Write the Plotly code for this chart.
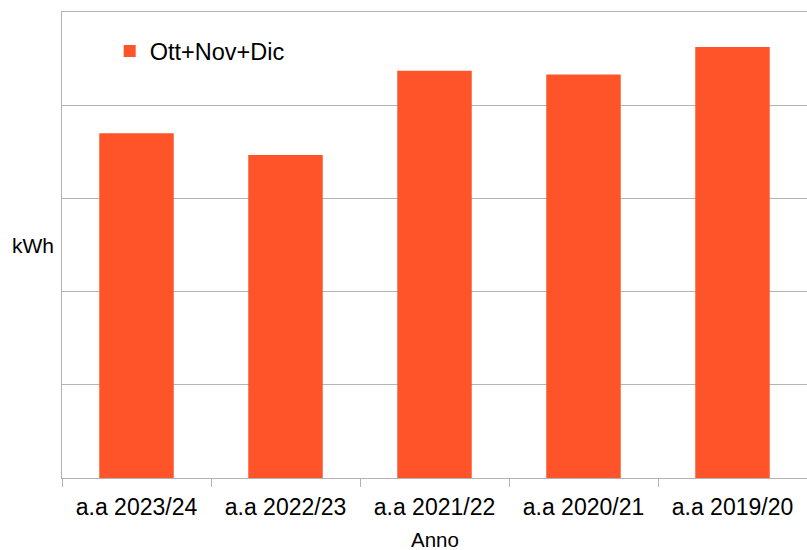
import plotly.graph_objects as go

categories = ["a.a 2023/24", "a.a 2022/23", "a.a 2021/22", "a.a 2020/21", "a.a 2019/20"]
values = [3700, 3465, 4370, 4330, 4625]
series_name = "Ott+Nov+Dic"
x_title = "Anno"
y_title = "kWh"

grid = "#b3b3b3"
font_family = "Liberation Sans, Arial, sans-serif"

fig = go.Figure()
fig.add_trace(go.Bar(
    x=categories, y=values, name=series_name,
    marker=dict(color="#ff5429", line=dict(width=0)),
    showlegend=True,
))

fig.update_layout(
    width=807, height=550,
    margin=dict(l=62, r=0, t=12, b=72, autoexpand=False),
    paper_bgcolor="white", plot_bgcolor="white",
    font=dict(family=font_family, color="black", size=23),
    bargap=0.5,
    showlegend=True,
    legend=dict(x=0.064, y=0.963, xanchor="left", yanchor="top",
                font=dict(size=23.5), bgcolor="rgba(0,0,0,0)"),
    xaxis=dict(
        type="category", automargin=False,
        showline=True, mirror=True, linecolor=grid, linewidth=1,
        ticks="outside", tickson="boundaries", ticklen=8, tickcolor=grid,
        ticklabelstandoff=8,
        showgrid=False,
        tickfont=dict(size=23),
    ),
    yaxis=dict(
        automargin=False,
        range=[0, 5000], dtick=1000,
        showgrid=True, gridcolor=grid, gridwidth=1,
        showline=True, linecolor=grid, linewidth=1,
        showticklabels=False, ticks="",
        zeroline=False,
    ),
    annotations=[
        dict(text=y_title, xref="paper", yref="paper", x=-0.039, y=0.5,
             xanchor="center", yanchor="middle", showarrow=False,
             font=dict(size=21)),
        dict(text=x_title, xref="paper", yref="paper", x=0.5, y=-0.133,
             xanchor="center", yanchor="middle", showarrow=False,
             font=dict(size=20.5)),
    ],
)

fig.write_html("out.html", config={"displayModeBar": False},
               post_script="document.body.style.margin='0';")
